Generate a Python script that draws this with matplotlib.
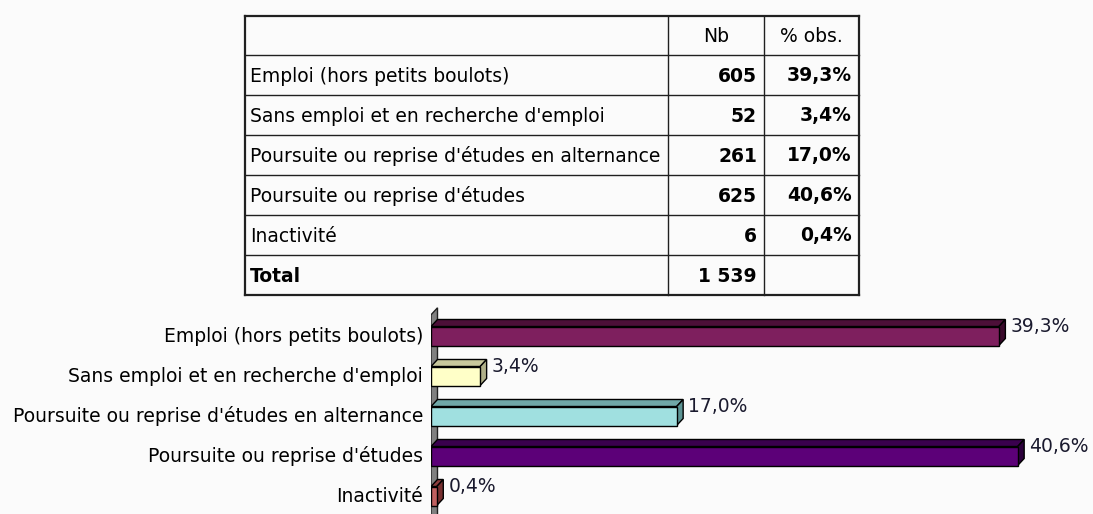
import matplotlib.pyplot as plt
from matplotlib.patches import Polygon
import numpy as np

# situation data
categories = ["Emploi (hors petits boulots)",
              "Sans emploi et en recherche d'emploi",
              "Poursuite ou reprise d'études en alternance",
              "Poursuite ou reprise d'études",
              "Inactivité"]
counts = [605, 52, 261, 625, 6]
percents = [39.3, 3.4, 17.0, 40.6, 0.4]
pct_labels = ["39,3%", "3,4%", "17,0%", "40,6%", "0,4%"]
total_label = "1 539"
header = ["", "Nb", "% obs."]

front_colors = ["#7e1f5e", "#ffffc8", "#a0e0e0", "#5c0078", "#c06060"]
top_colors = ["#4c0f38", "#c8c89c", "#70a8a8", "#3a004e", "#8c3c3c"]
side_colors = ["#3a0a2b", "#b0b088", "#5c9494", "#2c003c", "#783030"]

plt.rcParams['font.family'] = ['DejaVu Sans']
FS = 13.5
W, H = 1093, 514

fig = plt.figure(figsize=(W / 100, H / 100), dpi=100)
fig.patch.set_facecolor('#fbfbfb')

# ---- table (drawn in pixel coords) ----
tab = fig.add_axes([0, 0, 1, 1])
tab.set_xlim(0, W)
tab.set_ylim(H, 0)
tab.axis('off')

col_edges = [245, 668, 764, 859]
row_edges = [16, 55, 95, 135, 175, 215, 255, 295]
for x in col_edges:
    lw = 1.6 if x in (col_edges[0], col_edges[-1]) else 1.0
    tab.plot([x, x], [row_edges[0], row_edges[-1]], color='#202020', lw=lw)
for y in row_edges:
    lw = 1.6 if y in (row_edges[0], row_edges[-1]) else 1.0
    tab.plot([col_edges[0], col_edges[-1]], [y, y], color='#202020', lw=lw)

def row_mid(i):
    return (row_edges[i] + row_edges[i + 1]) / 2 + 1

tab.text((col_edges[1] + col_edges[2]) / 2, row_mid(0), header[1],
         ha='center', va='center', fontsize=FS)
tab.text((col_edges[2] + col_edges[3]) / 2, row_mid(0), header[2],
         ha='center', va='center', fontsize=FS)
for i, (cat, n, p) in enumerate(zip(categories, counts, pct_labels)):
    y = row_mid(i + 1)
    tab.text(col_edges[0] + 5, y, cat, ha='left', va='center', fontsize=FS)
    tab.text(col_edges[2] - 7, y, str(n), ha='right', va='center',
             fontsize=FS, fontweight='bold')
    tab.text(col_edges[3] - 7, y, p, ha='right', va='center',
             fontsize=FS, fontweight='bold')
y = row_mid(len(categories) + 1)
tab.text(col_edges[0] + 5, y, "Total", ha='left', va='center',
         fontsize=FS, fontweight='bold')
tab.text(col_edges[2] - 7, y, total_label, ha='right', va='center',
         fontsize=FS, fontweight='bold')

# ---- 3d-ish bar chart ----
px_per_pct = 14.45
px_per_row = 40
x0, top = 431, 305
ax = fig.add_axes([x0 / W, 0, (W - x0) / W, (H - top) / H])
ax.set_xlim(0, (W - x0) / px_per_pct)
ax.set_ylim((H - 336) / px_per_row, -(336 - top) / px_per_row)
ax.axis('off')

ypos = np.arange(len(categories))
h = 0.475
dx = 6.5 / px_per_pct
dy = 7 / px_per_row

# back wall
ytop = -0.53
wall = Polygon([(0, 6), (0, ytop), (dx, ytop - dy), (dx, 6)],
               closed=True, facecolor='#808080', edgecolor='#202020', lw=1, zorder=1)
ax.add_patch(wall)

ax.barh(ypos, percents, height=h, color=front_colors, edgecolor='black',
        linewidth=1, zorder=3)
for y, v, tc, sc, lab in zip(ypos, percents, top_colors, side_colors, pct_labels):
    t = y - h / 2
    b = y + h / 2
    ax.add_patch(Polygon([(0, t), (v, t), (v + dx, t - dy), (dx, t - dy)],
                         closed=True, facecolor=tc, edgecolor='black', lw=1, zorder=2))
    ax.add_patch(Polygon([(v, t), (v + dx, t - dy), (v + dx, b - dy), (v, b)],
                         closed=True, facecolor=sc, edgecolor='black', lw=1, zorder=2))
    ax.text(v + dx + 5 / px_per_pct, t, lab, ha='left', va='center',
            fontsize=FS, color='#1a1a2e')
    ax.text(-8 / px_per_pct, y, categories[y], ha='right', va='center',
            fontsize=FS, clip_on=False)

fig.savefig('out.png', dpi=100, facecolor=fig.get_facecolor())
